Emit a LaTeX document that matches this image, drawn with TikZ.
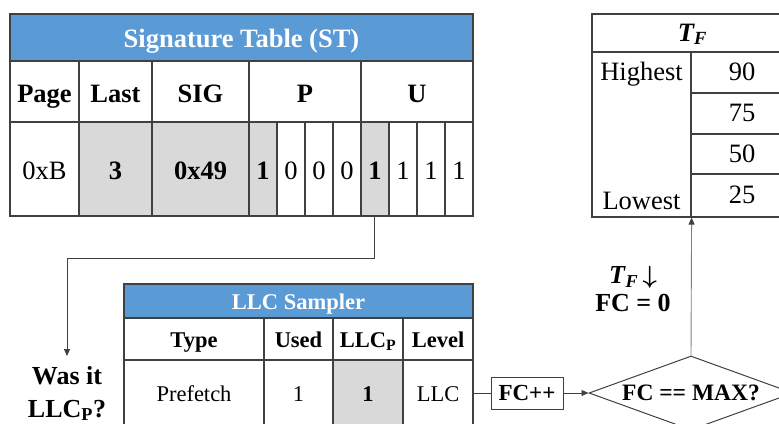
\documentclass[tikz,border=0pt]{standalone}
\usepackage{amsmath}
\usepackage{fontspec}
\setmainfont{Liberation Serif}
\usetikzlibrary{arrows.meta, positioning, shapes.geometric}

\definecolor{titleblue}{HTML}{5B9BD5}
\definecolor{cellgray}{HTML}{D9D9D9}
\definecolor{linegray}{HTML}{404040}

\newcommand{\bigf}{\fontsize{26.5}{33}\selectfont}
\newcommand{\midf}{\fontsize{22.5}{26}\selectfont}
\newcommand{\tff}{\fontsize{26.5}{30}\selectfont}

\begin{document}
\begin{tikzpicture}[
	x=1pt, y=-1pt,
	>={Triangle[length=7pt,width=6pt]},
	cell/.style={draw=linegray, line width=1.2pt, inner sep=0pt,
		text height=21pt, text depth=0pt, font=\bigf},
	small/.style={text height=17pt, text depth=0pt, font=\midf},
	tabtitle/.style={cell, fill=titleblue, text=white, font=\bigf\bfseries},
	head/.style={cell, font=\bigf\bfseries},
	hit/.style={fill=cellgray, font=\bigf\bfseries},
	plain/.style={},
	tfcell/.style={cell, text height=19pt, text depth=3pt, font=\tff},
	box/.style={draw=linegray, line width=1pt, inner sep=0pt, font=\fontsize{23}{26}\selectfont\bfseries},
	link/.style={draw=linegray, line width=0.9pt}
]
\useasboundingbox (0,0) rectangle (779,423);

% signature table
\node[tabtitle, text height=19pt, minimum width=463, minimum height=47] (st) at (241.5,37.5) {Signature Table (ST)};
\node[head, minimum width=69, minimum height=61] (page) at (44.5,91.5) {Page};
\node[head, minimum width=73, minimum height=61] (last) at (115.5,91.5) {Last};
\node[head, minimum width=97, minimum height=61] (sig) at (200.5,91.5) {SIG};
\node[head, minimum width=112, minimum height=61] (p) at (305,91.5) {P};
\node[head, minimum width=112, minimum height=61] (u) at (417,91.5) {U};
\node[cell, minimum width=69, minimum height=94] (pagev) at (44.5,169) {0xB};
\node[cell, hit, minimum width=73, minimum height=94] (lastv) at (115.5,169) {3};
\node[cell, hit, minimum width=97, minimum height=94] (sigv) at (200.5,169) {0x49};
\foreach \v/\s [count=\i] in {1/hit,0/plain,0/plain,0/plain}
	\node[cell, \s, minimum width=28, minimum height=94] (pb\i) at ({235+28*\i},169) {\v};
\foreach \v/\s [count=\i] in {1/hit,1/plain,1/plain,1/plain}
	\node[cell, \s, minimum width=28, minimum height=94] (ub\i) at ({347+28*\i},169) {\v};

% llc sampler
\node[tabtitle, small, font=\midf\bfseries, minimum width=349, minimum height=34] (llc) at (298.5,301) {LLC Sampler};
\node[head, small, font=\midf\bfseries, minimum width=140, minimum height=42] (type) at (194,339) {Type};
\node[head, small, font=\midf\bfseries, minimum width=69, minimum height=42] (used) at (298.5,339) {Used};
\node[head, small, font=\midf\bfseries, minimum width=70, minimum height=42] (llcp) at (368,339) {LLC\textsubscript{P}};
\node[head, small, font=\midf\bfseries, minimum width=70, minimum height=42] (level) at (438,339) {Level};
\node[cell, small, minimum width=140, minimum height=66] (typev) at (194,393) {Prefetch};
\node[cell, small, minimum width=69, minimum height=66] (usedv) at (298.5,393) {1};
\node[cell, small, fill=cellgray, font=\midf\bfseries, minimum width=70, minimum height=66] (llcpv) at (368,393) {1};
\node[cell, small, minimum width=70, minimum height=66] (levelv) at (438,393) {LLC};

% threshold table
\node[cell, text height=19pt, text depth=3pt, font=\tff\bfseries\itshape, minimum width=201, minimum height=38] (tf) at (692.5,33) {T\textsubscript{F}};
\node[cell, minimum width=99, minimum height=165] (tfl) at (641.5,134.5) {};
\node[inner sep=0pt, text height=19pt, text depth=3pt, font=\tff] (hi) at (641.5,72.5) {Highest};
\node[inner sep=0pt, text height=19pt, text depth=3pt, font=\tff] (lo) at (641.5,201) {Lowest};
\node[tfcell, minimum width=102, minimum height=41] (t90) at (742,72.5) {90};
\node[tfcell, minimum width=102, minimum height=41] (t75) at (742,113.5) {75};
\node[tfcell, minimum width=102, minimum height=40] (t50) at (742,154) {50};
\node[tfcell, minimum width=102, minimum height=43] (t25) at (742,195.5) {25};

% flow
\node[font=\fontsize{26}{33}\selectfont\bfseries, align=center, anchor=north, inner xsep=2pt, inner ysep=10pt] (wasit) at (67,356) {Was it\\LLC\textsubscript{P}?};
\node[box, minimum width=72, minimum height=32] (inc) at (527,393) {FC++};
\node[draw=linegray, line width=1pt, diamond, aspect=2.75, inner sep=0pt,
	minimum width=204, minimum height=74, font=\fontsize{23.5}{26}\selectfont\bfseries] (max) at (691,393) {FC == MAX?};
\node[font=\fontsize{26}{28}\selectfont\bfseries, align=center] (reset) at (633,289)
	{\textit{T}\textsubscript{\textit{F}}\,$\boldsymbol{\downarrow}$\\FC = 0};
\coordinate (turn) at (374,258);

\draw[link, ->] (ub1.south -| turn) -- (turn) -| (wasit.north);
\draw[link] (levelv.east) -- (inc.west);
\draw[link, ->] (inc.east) -- (max.west);
\draw[link, draw=gray, -{Triangle[length=7pt,width=6pt,color=linegray]}] (max.north) -- (tfl.south east);
\end{tikzpicture}
\end{document}
